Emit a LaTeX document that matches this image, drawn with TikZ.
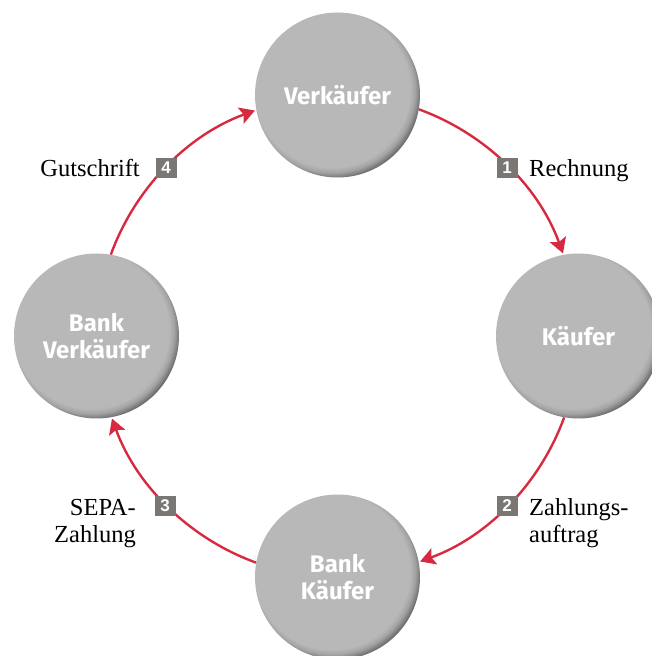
\documentclass[tikz,border=0pt]{standalone}
\usepackage{fontspec}
\setmainfont{Liberation Serif}
\newfontfamily\nodefont{Fira Sans}
\newfontfamily\badgefont{Liberation Sans}
\usetikzlibrary{arrows.meta}
\definecolor{cred}{HTML}{D72A40}
\definecolor{cgray}{HTML}{B8B8B8}
\definecolor{cdark}{HTML}{6A6A6A}
\definecolor{cbadge}{HTML}{7A7673}
\pgfdeclareradialshading{ballnode}{\pgfpoint{-2.2bp}{2.2bp}}{%
  color(0bp)=(cgray); color(23.6bp)=(cgray); color(25.2bp)=(cgray!72!cdark);
  color(27bp)=(cdark); color(100bp)=(cdark)}
\tikzset{
  circnode/.style={circle, minimum size=165pt, inner sep=0pt, shading=ballnode,
    text=white, align=center, font=\nodefont\bfseries\fontsize{24}{27}\selectfont},
  arr/.style={draw=cred, line width=2.4pt, -{Stealth[length=15pt,width=17pt,inset=3pt]}},
  badge/.style={fill=cbadge, text=white, minimum width=21pt, minimum height=20pt,
    inner sep=0pt, font=\badgefont\bfseries\fontsize{17}{18}\selectfont},
  lbl/.style={inner sep=0pt, font=\fontsize{24.5}{27}\selectfont}
}
\begin{document}
\begin{tikzpicture}[x=1pt,y=1pt]
\useasboundingbox (0,0) rectangle (652,656);
\node[circnode] (V)  at (337.5,561) {Verkäufer};
\node[circnode] (K)  at (578.5,320) {Käufer};
\node[circnode] (BK) at (337.5,79)  {Bank\\Käufer};
\node[circnode] (BV) at (96.5,320)  {Bank\\Verkäufer};
\draw[arr] (V.-10)  arc[start angle=70,  end angle=20,  radius=241];
\draw[arr] (K.-100) arc[start angle=-20, end angle=-70, radius=241];
\draw[arr] (BK.170) arc[start angle=250, end angle=200, radius=241];
\draw[arr] (BV.80)  arc[start angle=160, end angle=110, radius=241];
\node[badge] (b1) at (507,488) {1};
\node[badge] (b2) at (507,150) {2};
\node[badge] (b3) at (165,150) {3};
\node[badge] (b4) at (166,488) {4};
\node[lbl, anchor=base west] (l1) at (529,479.5) {Rechnung};
\node[lbl, anchor=base east] (l4) at (140,479.5) {Gutschrift};
\node[lbl, anchor=base west, align=left] (l2) at (529,113.5) {Zahlungs-\\auftrag};
\node[lbl, anchor=base east, align=right] (l3) at (136,113.5) {SEPA-\\Zahlung};
\end{tikzpicture}
\end{document}
